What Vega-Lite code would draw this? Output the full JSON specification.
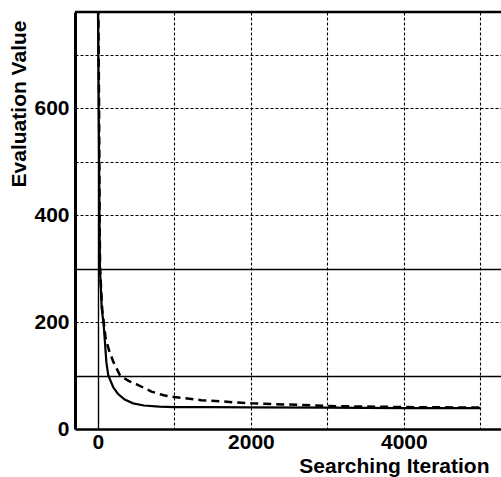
{
  "$schema": "https://vega.github.io/schema/vega-lite/v6.json",
  "width": 426,
  "height": 417,
  "autosize": "none",
  "padding": {"left": 75, "top": 12, "right": 0, "bottom": 48},
  "background": "white",
  "config": {
    "view": {"stroke": null},
    "font": "Liberation Sans",
    "axis": {
      "labelFont": "Liberation Sans",
      "titleFont": "Liberation Sans",
      "labelFontSize": 21,
      "titleFontSize": 21,
      "labelFontWeight": "bold",
      "titleFontWeight": "bold",
      "labelColor": "black",
      "titleColor": "black",
      "domainColor": "black",
      "gridColor": "black",
      "gridOpacity": 1,
      "ticks": false
    }
  },
  "datasets": {
    "curves": [
      {"series": "solid", "iteration": 0, "value": 790},
      {"series": "solid", "iteration": 10, "value": 600},
      {"series": "solid", "iteration": 20, "value": 400},
      {"series": "solid", "iteration": 26, "value": 300},
      {"series": "solid", "iteration": 50, "value": 225},
      {"series": "solid", "iteration": 75, "value": 195},
      {"series": "solid", "iteration": 90, "value": 165},
      {"series": "solid", "iteration": 110, "value": 125},
      {"series": "solid", "iteration": 135, "value": 100},
      {"series": "solid", "iteration": 200, "value": 78},
      {"series": "solid", "iteration": 260, "value": 66},
      {"series": "solid", "iteration": 350, "value": 55},
      {"series": "solid", "iteration": 460, "value": 48},
      {"series": "solid", "iteration": 600, "value": 44},
      {"series": "solid", "iteration": 800, "value": 42},
      {"series": "solid", "iteration": 1000, "value": 41},
      {"series": "solid", "iteration": 1500, "value": 41},
      {"series": "solid", "iteration": 2000, "value": 40.5},
      {"series": "solid", "iteration": 3000, "value": 40},
      {"series": "solid", "iteration": 4000, "value": 39},
      {"series": "solid", "iteration": 5000, "value": 39},
      {"series": "dashed", "iteration": 5, "value": 790},
      {"series": "dashed", "iteration": 15, "value": 600},
      {"series": "dashed", "iteration": 22, "value": 400},
      {"series": "dashed", "iteration": 28, "value": 300},
      {"series": "dashed", "iteration": 55, "value": 225},
      {"series": "dashed", "iteration": 80, "value": 195},
      {"series": "dashed", "iteration": 100, "value": 170},
      {"series": "dashed", "iteration": 145, "value": 147},
      {"series": "dashed", "iteration": 200, "value": 126},
      {"series": "dashed", "iteration": 290, "value": 100},
      {"series": "dashed", "iteration": 400, "value": 90},
      {"series": "dashed", "iteration": 500, "value": 84},
      {"series": "dashed", "iteration": 700, "value": 70},
      {"series": "dashed", "iteration": 860, "value": 63},
      {"series": "dashed", "iteration": 1000, "value": 60},
      {"series": "dashed", "iteration": 1350, "value": 54},
      {"series": "dashed", "iteration": 2000, "value": 48},
      {"series": "dashed", "iteration": 2650, "value": 45},
      {"series": "dashed", "iteration": 3000, "value": 43},
      {"series": "dashed", "iteration": 4000, "value": 41},
      {"series": "dashed", "iteration": 5000, "value": 40}
    ]
  },
  "layer": [
    {
      "data": {"name": "curves"},
      "transform": [{"filter": "datum.series === 'solid'"}],
      "mark": {"type": "line", "clip": true, "color": "black", "strokeWidth": 2.2},
      "encoding": {
        "x": {
          "field": "iteration",
          "type": "quantitative",
          "scale": {"domain": [-300, 5270], "nice": false, "zero": false},
          "axis": {
            "values": [0, 1000, 2000, 3000, 4000, 5000],
            "format": "d",
            "labelExpr": "datum.value % 2000 === 0 ? datum.label : ''",
            "grid": true,
            "gridDash": {"condition": {"test": "datum.value === 0", "value": []}, "value": [3, 2]},
            "gridWidth": {"condition": {"test": "datum.value === 0", "value": 1.4}, "value": 1.1},
            "domainWidth": 2.5,
            "labelPadding": 2,
            "title": "Searching Iteration",
            "titleX": 414,
            "titleY": 43,
            "titleAlign": "right",
            "titleBaseline": "alphabetic",
            "titleAnchor": "end"
          }
        },
        "y": {
          "field": "value",
          "type": "quantitative",
          "scale": {"domain": [0, 780], "nice": false},
          "axis": {
            "values": [0, 100, 200, 300, 400, 500, 600, 700],
            "labelExpr": "datum.value % 200 === 0 ? datum.label : ''",
            "grid": true,
            "gridDash": {"condition": {"test": "datum.value === 100 || datum.value === 300", "value": []}, "value": [3, 2]},
            "gridWidth": {"condition": {"test": "datum.value === 100 || datum.value === 300", "value": 1.4}, "value": 1.1},
            "domainWidth": 3,
            "labelPadding": 6,
            "title": "Evaluation Value",
            "titleAngle": -90,
            "titleX": -56,
            "titleY": 8,
            "titleAlign": "right",
            "titleBaseline": "middle",
            "titleAnchor": "end"
          }
        }
      }
    },
    {
      "data": {"name": "curves"},
      "transform": [{"filter": "datum.series === 'dashed'"}],
      "mark": {"type": "line", "clip": true, "color": "black", "strokeWidth": 2.5, "strokeDash": [8, 5]},
      "encoding": {
        "x": {"field": "iteration", "type": "quantitative"},
        "y": {"field": "value", "type": "quantitative"}
      }
    },
    {
      "data": {"values": [{}]},
      "mark": {"type": "rule", "color": "black", "strokeWidth": 2.5},
      "encoding": {"y": {"datum": 780}}
    }
  ]
}
